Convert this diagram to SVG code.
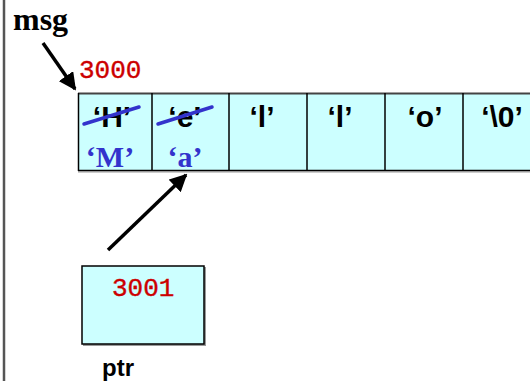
<svg xmlns="http://www.w3.org/2000/svg" width="530" height="381" viewBox="0 0 530 381">
  <style>
    .cell { fill: #ccffff; stroke: #000; stroke-width: 1.5; }
    .ch { font-family: "Liberation Sans", Arial, sans-serif; font-weight: bold; font-size: 30px; fill: #000; text-anchor: middle; }
    .new { font-family: "Liberation Serif", "Times New Roman", serif; font-weight: bold; font-size: 30px; fill: #3333cc; text-anchor: middle; }
    .addr { font-family: "Liberation Mono", "Courier New", monospace; font-size: 26px; fill: #cc0000; stroke: #cc0000; stroke-width: 0.4; }
    .strike { stroke: #3333cc; stroke-width: 3.5; stroke-linecap: round; }
    .arrow { stroke: #000; stroke-width: 3.5; fill: none; marker-end: url(#head); }
  </style>
  <defs>
    <marker id="head" viewBox="0 0 10 10" refX="9" refY="5" markerWidth="5" markerHeight="5" orient="auto" markerUnits="strokeWidth">
      <path d="M0,0 L10,5 L0,10 Z" fill="#000"/>
    </marker>
  </defs>

  <rect width="530" height="381" fill="#fff"/>
  <!-- frame edge -->
  <line x1="4" y1="0" x2="4" y2="381" stroke="#555" stroke-width="2.5"/>

  <!-- label: msg -->
  <g id="msg">
    <text x="13" y="30" font-family="Liberation Serif, 'Times New Roman', serif" font-weight="bold" font-size="32">msg</text>
  </g>

  <!-- char array starting at address 3000 -->
  <g id="array">
    <text class="addr" x="79" y="78">3000</text>
    <rect x="78" y="94" width="463" height="77" fill="#ccffff"/>
    <line x1="78" y1="172" x2="530" y2="172" stroke="#bbb" stroke-width="1.5"/>
    <line x1="78" y1="170.5" x2="530" y2="170.5" stroke="#000" stroke-width="1.5"/>
    <line x1="78" y1="93.5" x2="530" y2="93.5" stroke="#444" stroke-width="2"/>
    <line x1="78.5" y1="93" x2="78.5" y2="171" stroke="#000" stroke-width="1.5"/>
    <line x1="152" y1="93" x2="152" y2="171" stroke="#000" stroke-width="1.5"/>
    <line x1="229" y1="93" x2="229" y2="171" stroke="#000" stroke-width="1.5"/>
    <line x1="307" y1="93" x2="307" y2="171" stroke="#000" stroke-width="1.5"/>
    <line x1="385" y1="93" x2="385" y2="171" stroke="#000" stroke-width="1.5"/>
    <line x1="463" y1="93" x2="463" y2="171" stroke="#000" stroke-width="1.5"/>

    <text class="ch" x="112" y="127">‘H’</text>
    <text class="ch" x="185" y="127">‘e’</text>
    <text class="ch" x="262" y="127">‘l’</text>
    <text class="ch" x="340" y="127">‘l’</text>
    <text class="ch" x="425" y="127">‘o’</text>
    <text class="ch" x="502" y="127">‘\0’</text>

    <line class="strike" x1="84" y1="124" x2="139" y2="107"/>
    <line class="strike" x1="158" y1="124" x2="212" y2="107"/>

    <text class="new" x="110" y="167">‘M’</text>
    <text class="new" x="185" y="167">‘a’</text>
  </g>

  <!-- pointer variable -->
  <g id="ptr">
    <rect x="83" y="267" width="123" height="79" fill="#999"/>
    <rect class="cell" x="82" y="266" width="122" height="78"/>
    <text class="addr" x="112" y="296">3001</text>
    <text x="102" y="376" font-family="Liberation Sans, Arial, sans-serif" font-weight="bold" font-size="24">ptr</text>
  </g>

  <g id="connectors">
    <line class="arrow" x1="43" y1="43" x2="75" y2="89"/>
    <line class="arrow" x1="108" y1="250" x2="186" y2="175"/>
  </g>
</svg>
